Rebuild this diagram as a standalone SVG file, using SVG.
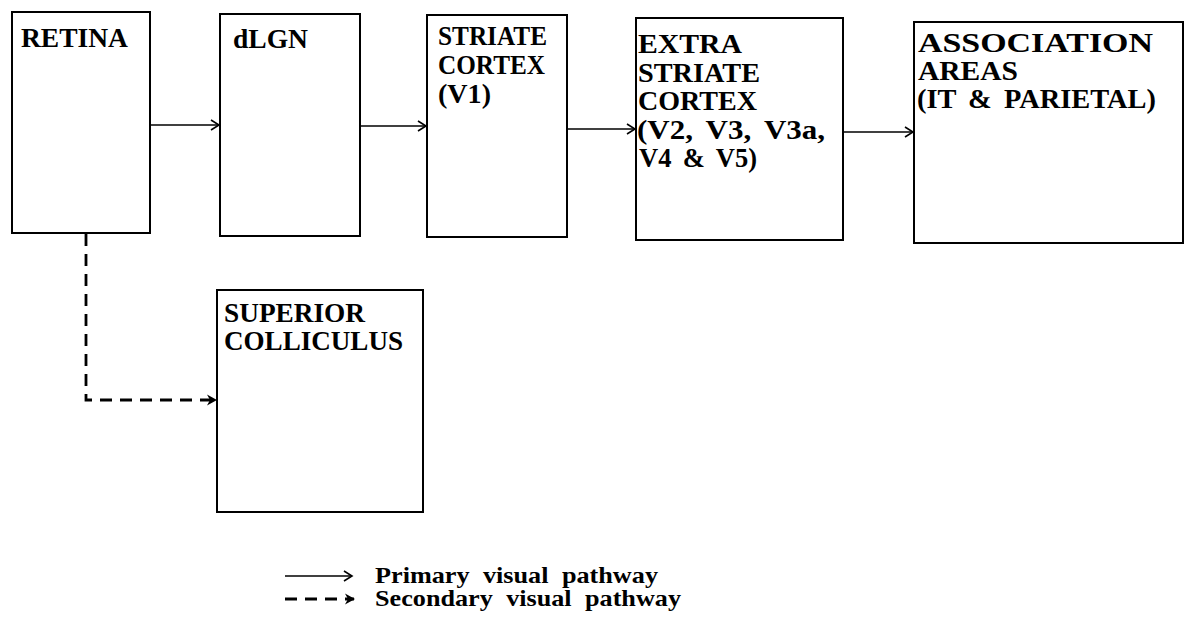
<svg xmlns="http://www.w3.org/2000/svg" width="1191" height="625" viewBox="0 0 1191 625">
<style>
.box{fill:#fff;stroke:#000;stroke-width:2}
.lbl{font-family:"Liberation Serif","Times New Roman",serif;font-weight:bold;font-size:28px;fill:#000}
.leg{font-family:"Liberation Serif","Times New Roman",serif;font-weight:bold;font-size:23px;fill:#000}
.solid{fill:none;stroke:#000;stroke-width:1.6}
.dash{fill:none;stroke:#000;stroke-width:2.8;stroke-dasharray:12 8}
</style>
<defs>
<marker id="open" markerWidth="12" markerHeight="12" refX="10" refY="6" orient="auto" markerUnits="userSpaceOnUse">
<polyline points="2,1 10,6 2,11" fill="none" stroke="#000" stroke-width="1.6"/>
</marker>
<marker id="filled" markerWidth="13" markerHeight="13" refX="11" refY="6.5" orient="auto" markerUnits="userSpaceOnUse">
<polygon points="2,1 12,6.5 2,12 5,6.5" fill="#000"/>
</marker>
</defs>
<rect width="1191" height="625" fill="#fff"/>
<g id="retina">
<rect class="box" x="12" y="12" width="138" height="221"/>
<text class="lbl" x="21" y="47" textLength="107" lengthAdjust="spacingAndGlyphs">RETINA</text>
</g>
<g id="dlgn">
<rect class="box" x="220" y="14" width="140" height="222"/>
<text class="lbl" x="233" y="48" textLength="75" lengthAdjust="spacingAndGlyphs">dLGN</text>
</g>
<g id="striate">
<rect class="box" x="427" y="15" width="140" height="222"/>
<text class="lbl" x="438" y="45" textLength="109" lengthAdjust="spacingAndGlyphs">STRIATE</text>
<text class="lbl" x="438" y="74" textLength="107" lengthAdjust="spacingAndGlyphs">CORTEX</text>
<text class="lbl" x="438" y="103" textLength="53" lengthAdjust="spacingAndGlyphs">(V1)</text>
</g>
<g id="extrastriate">
<rect class="box" x="636" y="18" width="207" height="222"/>
<text class="lbl" x="638" y="53" textLength="104" lengthAdjust="spacingAndGlyphs">EXTRA</text>
<text class="lbl" x="638" y="82" textLength="122" lengthAdjust="spacingAndGlyphs">STRIATE</text>
<text class="lbl" x="638" y="110" textLength="119" lengthAdjust="spacingAndGlyphs">CORTEX</text>
<text class="lbl" x="637" y="139" textLength="188" lengthAdjust="spacingAndGlyphs" word-spacing="5">(V2, V3, V3a,</text>
<text class="lbl" x="639" y="167" textLength="118" lengthAdjust="spacingAndGlyphs" word-spacing="5">V4 &amp; V5)</text>
</g>
<g id="association">
<rect class="box" x="914" y="22" width="269" height="221"/>
<text class="lbl" x="918" y="52" textLength="235" lengthAdjust="spacingAndGlyphs">ASSOCIATION</text>
<text class="lbl" x="918" y="80" textLength="100" lengthAdjust="spacingAndGlyphs">AREAS</text>
<text class="lbl" x="917" y="108" textLength="239" lengthAdjust="spacingAndGlyphs" word-spacing="5">(IT &amp; PARIETAL)</text>
</g>
<g id="superior">
<rect class="box" x="217" y="290" width="206" height="222"/>
<text class="lbl" x="224" y="322" textLength="141" lengthAdjust="spacingAndGlyphs">SUPERIOR</text>
<text class="lbl" x="224" y="350" textLength="179" lengthAdjust="spacingAndGlyphs">COLLICULUS</text>
</g>
<g id="connectors">
<line class="solid" x1="151" y1="125" x2="219" y2="125" marker-end="url(#open)"/>
<line class="solid" x1="361" y1="126" x2="426" y2="126" marker-end="url(#open)"/>
<line class="solid" x1="568" y1="129" x2="635" y2="129" marker-end="url(#open)"/>
<line class="solid" x1="844" y1="132" x2="913" y2="132" marker-end="url(#open)"/>
<polyline class="dash" points="86,234 86,400 216,400" marker-end="url(#filled)"/>
</g>
<g id="legend">
<line class="solid" x1="285" y1="576" x2="352" y2="576" marker-end="url(#open)"/>
<text class="leg" x="375" y="583" textLength="283" lengthAdjust="spacingAndGlyphs" word-spacing="6">Primary visual pathway</text>
<line class="dash" x1="285" y1="599" x2="354" y2="599" stroke-dasharray="20 9" marker-end="url(#filled)"/>
<text class="leg" x="375" y="606" textLength="306" lengthAdjust="spacingAndGlyphs" word-spacing="6">Secondary visual pathway</text>
</g>
</svg>
